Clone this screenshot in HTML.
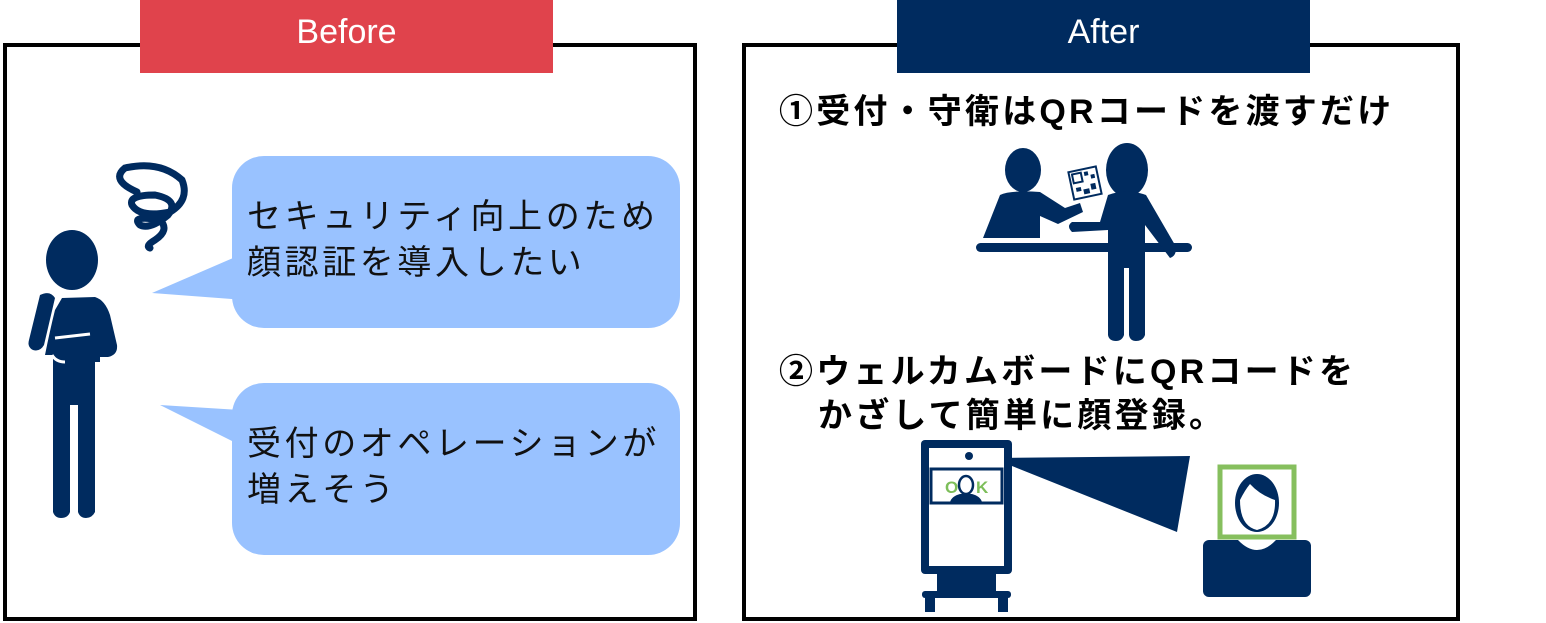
<!DOCTYPE html>
<html><head><meta charset="utf-8"><style>
body{margin:0;width:1546px;height:623px;background:#fff;overflow:hidden;position:relative;font-family:"Liberation Sans","Noto Sans CJK JP",sans-serif}
.t{position:absolute;white-space:nowrap}
</style></head><body>
<svg width="1546" height="623" style="position:absolute;left:0;top:0">
<rect x="5" y="45" width="690" height="574" fill="none" stroke="#000" stroke-width="4"/>
<rect x="744" y="45" width="714" height="574" fill="none" stroke="#000" stroke-width="4"/>
<rect x="140" y="0" width="413" height="73" fill="#E0434C"/>
<rect x="897" y="0" width="413" height="73" fill="#002B5F"/>
<rect x="232" y="156" width="448" height="172" rx="32" fill="#99C2FF"/>
<polygon points="152,293 240,255 245,300" fill="#99C2FF"/>
<rect x="232" y="383" width="448" height="172" rx="32" fill="#99C2FF"/>
<polygon points="160,405 240,410 240,445" fill="#99C2FF"/>
<g fill="#002B5F">
<ellipse cx="72" cy="260" rx="26" ry="30"/>
<path d="M62 298 L95 297 Q105 300 110 315 L117 345 Q118 355 108 357 L100 357 L100 362 L95 362 L95 512 Q92 518 86 518 Q80 518 78 512 L78 405 L70 405 L70 512 Q68 518 61 518 Q55 518 53 512 L53 355 L45 355 Q50 330 55 310Z"/>
<path d="M40 295 Q50 290 55 298 L44 345 Q40 352 33 350 Q27 347 29 340Z"/>
</g>
<path d="M55 338 L90 334" stroke="#fff" stroke-width="3"/>
<path d="M52 355 Q56 362 65 362" stroke="#fff" stroke-width="3" fill="none"/>
<path d="M137 192 Q110 180 125 168 Q160 160 182 180 Q190 200 170 212 Q140 218 132 205 Q128 195 155 195 Q180 200 168 215 Q150 230 140 225 Q130 215 160 220 Q170 230 155 240 Q145 246 150 248" stroke="#002B5F" stroke-width="7" fill="none" stroke-linecap="round"/>
<g fill="#002B5F">
<ellipse cx="1023" cy="170" rx="18" ry="22"/>
<ellipse cx="1127" cy="170" rx="21" ry="27"/>
<path d="M1000 195 Q1010 190 1040 192 L1065 208 L1080 203 L1083 212 L1058 224 L1040 216 L1040 238 L983 238 Z"/>
<rect x="976" y="243" width="216" height="9" rx="4.5"/>
<path d="M1108 195 Q1127 188 1146 195 L1175 245 Q1178 255 1170 258 L1145 225 L1145 335 Q1143 341 1136 341 Q1130 341 1129 335 L1129 268 L1124 268 L1124 335 Q1122 341 1116 341 Q1109 341 1108 335 L1108 230 L1072 232 Q1066 226 1072 222 L1100 222 Z"/>
</g>
<g transform="rotate(-12 1085 183)">
<rect x="1071" y="169" width="28" height="28" fill="#fff" stroke="#002B5F" stroke-width="2"/>
<rect x="1074" y="172" width="9" height="9" fill="none" stroke="#002B5F" stroke-width="2"/>
<rect x="1086" y="172" width="4" height="4" fill="#002B5F"/><rect x="1092" y="176" width="4" height="4" fill="#002B5F"/>
<rect x="1075" y="186" width="5" height="4" fill="#002B5F"/><rect x="1082" y="189" width="6" height="5" fill="#002B5F"/><rect x="1090" y="185" width="5" height="6" fill="#002B5F"/>
</g>
<g fill="#002B5F">
<rect x="921" y="440" width="91" height="134" rx="4"/>
<rect x="937" y="572" width="59" height="22"/>
<rect x="922" y="591" width="89" height="7" rx="3"/>
<rect x="925" y="597" width="10" height="15"/><rect x="998" y="597" width="10" height="15"/>
<polygon points="992,458 1190,456 1177,532"/>
<rect x="1203" y="540" width="108" height="57" rx="6"/>
</g>
<rect x="929" y="448" width="75" height="118" fill="#fff"/>
<circle cx="969" cy="456" r="4" fill="#002B5F"/>
<rect x="931" y="469" width="71" height="34" fill="#fff" stroke="#002B5F" stroke-width="3"/>
<path d="M950 502 Q952 496 960 494 L972 494 Q980 496 982 502Z" fill="#002B5F"/>
<ellipse cx="966" cy="485" rx="7" ry="9" fill="#fff" stroke="#002B5F" stroke-width="2.5"/>
<text x="945" y="493" font-family="Liberation Sans" font-weight="bold" font-size="17" fill="#7DBE5A">O</text>
<text x="976" y="493" font-family="Liberation Sans" font-weight="bold" font-size="17" fill="#7DBE5A">K</text>
<path d="M1238 540 Q1257 560 1276 540" fill="#fff"/>
<rect x="1220" y="467" width="74" height="70" fill="#fff" stroke="#86BF5E" stroke-width="5"/>
<ellipse cx="1257" cy="503" rx="22" ry="29" fill="#002B5F"/>
<path d="M1240 500 Q1245 490 1250 484 Q1260 495 1275 500 Q1276 525 1257 530 Q1240 526 1240 500Z" fill="#fff"/>
</svg>
<div class="t" style="left:140px;top:13px;width:413px;text-align:center;color:#fff;font-size:34px">Before</div>
<div class="t" style="left:897px;top:13px;width:413px;text-align:center;color:#fff;font-size:34px">After</div>
<div class="t" style="left:247px;top:194px;font-size:34px;letter-spacing:3.6px;line-height:46px;color:#111">セキュリティ向上のため<br>顔認証を導入したい</div>
<div class="t" style="left:247px;top:421px;font-size:34px;letter-spacing:3.6px;line-height:46px;color:#111">受付のオペレーションが<br>増えそう</div>
<div class="t" style="left:779px;top:84px;font-size:34px;letter-spacing:3.2px;font-weight:bold;color:#000">①受付・守衛はQRコードを渡すだけ</div>
<div class="t" style="left:779px;top:350px;font-size:34px;letter-spacing:3.2px;font-weight:bold;color:#000;line-height:44px">②ウェルカムボードにQRコードを</div>
<div class="t" style="left:818px;top:394px;font-size:34px;letter-spacing:3.2px;font-weight:bold;color:#000;line-height:44px">かざして簡単に顔登録。</div>
</body></html>
